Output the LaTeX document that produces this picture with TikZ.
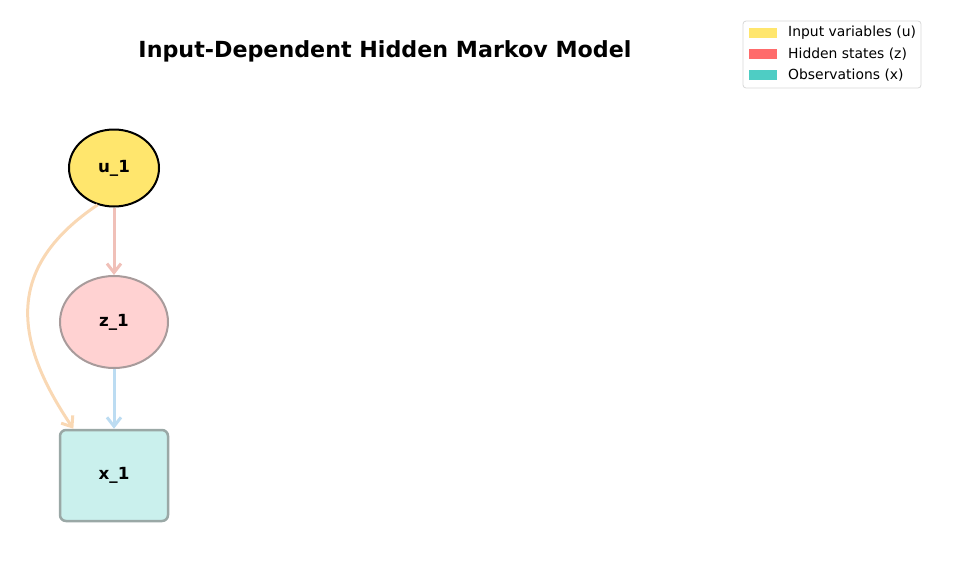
\documentclass[tikz,border=0pt]{standalone}
\usepackage{fontspec}
\setmainfont{DejaVu Sans}
\usetikzlibrary{shapes.geometric,arrows.meta,calc}
\definecolor{inputc}{HTML}{FFE66D}
\definecolor{hiddenc}{HTML}{FF6B6B}
\definecolor{obsc}{HTML}{4ECDC4}
\definecolor{hiddenfill}{HTML}{FFD2D2}
\definecolor{obsfill}{HTML}{CAF0ED}
\definecolor{hiddenedge}{HTML}{A89B9B}
\definecolor{obsedge}{HTML}{9AA8A6}
\definecolor{redarrow}{HTML}{F0C0B8}
\definecolor{bluearrow}{HTML}{BCDCF2}
\definecolor{orangearrow}{HTML}{F9D8B4}
\definecolor{legendedge}{HTML}{D8D8D8}
\tikzset{
  inputnode/.style={ellipse, draw=black, line width=2pt, fill=inputc, minimum width=90pt, minimum height=77pt, inner sep=0pt, font=\fontsize{16.7}{18}\selectfont\bfseries},
  hiddennode/.style={ellipse, draw=hiddenedge, line width=2pt, fill=hiddenfill, minimum width=108pt, minimum height=92pt, inner sep=0pt, font=\fontsize{16.7}{18}\selectfont\bfseries},
  obsnode/.style={rectangle, rounded corners=6pt, draw=obsedge, line width=2.5pt, fill=obsfill, minimum width=108pt, minimum height=91pt, inner sep=0pt, font=\fontsize{16.7}{18}\selectfont\bfseries},
  edge/.style={line width=3pt, -{Straight Barb[length=9pt,width=14pt,line width=3pt]}},
  patch/.style={minimum width=28pt, minimum height=10pt, inner sep=0pt},
  leg/.style={anchor=west, inner sep=0pt, font=\fontsize{13.9}{15}\selectfont},
}
\begin{document}
\begin{tikzpicture}[x=1pt,y=-1pt]
  \useasboundingbox (0,0) rectangle (955,576);

  \node[font=\fontsize{22.2}{24}\selectfont\bfseries] (title) at (385,51) {Input-Dependent Hidden Markov Model};

  \node[inputnode] (u1) at (114,168) {u\_1};
  \node[hiddennode] (z1) at (114,322) {z\_1};
  \node[obsnode] (x1) at (114,475.5) {x\_1};

  \draw[edge, redarrow] (u1) -- (z1);
  \draw[edge, bluearrow] (z1) -- (x1);
  \draw[edge, orangearrow] (u1.246) to[out=214, in=124, looseness=1.25] (x1.131);

  % legend
  \draw[legendedge, fill=white, rounded corners=3pt, line width=0.8pt] (743,21) rectangle (921,88);
  \node[patch, fill=inputc] (pu) at (763,33) {};
  \node[patch, fill=hiddenc] (pz) at (763,54) {};
  \node[patch, fill=obsc] (px) at (763,75) {};
  \node[leg] (lu) at (788,33) {Input variables (u)};
  \node[leg] (lz) at (788,54) {Hidden states (z)};
  \node[leg] (lx) at (788,75) {Observations (x)};
\end{tikzpicture}
\end{document}
